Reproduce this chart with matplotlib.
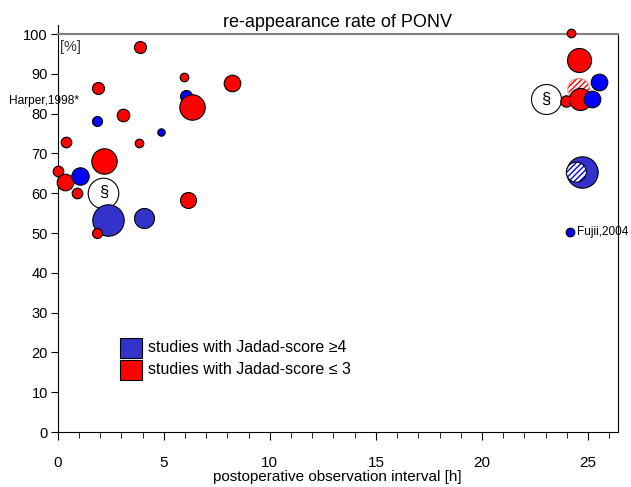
# re-appearance rate of PONV, bubble chart
import matplotlib
matplotlib.use('Agg')
import matplotlib.pyplot as plt
from matplotlib.patches import Rectangle

plt.rcParams['font.family'] = ['Liberation Sans', 'DejaVu Sans']

# studies: observation interval [h], re-appearance rate [%], bubble radius [px], group
interval = [0.0, 0.33, 1.07, 0.41, 0.91, 1.9, 1.85, 3.07, 2.2, 2.15, 2.37, 1.85, 4.08,
            3.9, 3.85, 4.87, 5.96, 6.04, 6.35, 6.16, 8.2,
            24.2, 24.56, 24.56, 25.5, 23.0, 23.96, 24.6, 25.17, 24.73, 24.45, 24.17]
rate = [65.7, 62.8, 64.4, 72.9, 60.0, 86.4, 78.2, 79.6, 68.0, 60.1, 53.3, 50.1, 53.8,
        96.8, 72.6, 75.5, 89.3, 84.4, 81.6, 58.2, 87.8,
        100.2, 93.5, 86.1, 87.9, 83.6, 83.2, 83.7, 83.6, 65.3, 65.3, 50.25]
radius = [5.3, 8.3, 8.7, 5.3, 5.3, 6.0, 5.0, 6.3, 12.7, 15.3, 15.7, 5.0, 10.0,
          6.0, 4.3, 3.7, 4.3, 6.0, 12.7, 8.0, 8.3,
          4.3, 12.0, 11.0, 8.3, 15.0, 5.7, 11.0, 8.3, 15.7, 10.0, 4.3]
group = ['r', 'r', 'b', 'r', 'r', 'r', 'b', 'r', 'r', 's', 'B', 'r', 'B',
         'r', 'r', 'b', 'r', 'b', 'r', 'r', 'r',
         'r', 'r', 'hr', 'b', 's', 'r', 'r', 'b', 'B', 'hb', 'b']

x_ticks = [0, 5, 10, 15, 20, 25]
y_ticks = [0, 10, 20, 30, 40, 50, 60, 70, 80, 90, 100]
legend_labels = ['studies with Jadad-score \u22654', 'studies with Jadad-score \u2264 3']

red = '#ff0000'
blue = '#0000ff'
dblue = '#3333cc'

fig = plt.figure(figsize=(6.31, 4.87), dpi=100)
ax = fig.add_axes([0.0914, 0.1129, 0.979 - 0.0914, 0.930 - 0.1129])

for i in range(len(interval)):
    s = (2 * radius[i] * 0.72) ** 2
    g = group[i]
    z = 3 + i * 0.01
    if g in ('r', 'b', 'B'):
        fc = {'r': red, 'b': blue, 'B': dblue}[g]
        ax.scatter(interval[i], rate[i], s=s, color=fc, edgecolors='black',
                   linewidths=0.8, zorder=z, clip_on=False)
    elif g == 's':
        ax.scatter(interval[i], rate[i], s=s, color='white', edgecolors='black',
                   linewidths=0.8, zorder=z, clip_on=False)
        ax.text(interval[i], rate[i], '\u00a7', ha='center', va='center',
                fontsize=12, zorder=z + 0.001)
    else:
        hc = red if g == 'hr' else blue
        oc = '#ff9090' if g == 'hr' else 'black'
        ax.scatter(interval[i], rate[i], s=s, facecolor='white', edgecolors=hc,
                   hatch='//////', linewidths=0, zorder=z, clip_on=False)
        ax.scatter(interval[i], rate[i], s=s, facecolor='none', edgecolors=oc,
                   linewidths=0.8, zorder=z + 0.001, clip_on=False)

ax.set_xlim(0, 26.4)
ax.set_ylim(0, 100)
ax.set_xticks(x_ticks)
ax.set_xticks(range(0, 27), minor=True)
ax.set_yticks(y_ticks)
ax.tick_params(axis='x', which='major', direction='out', length=6, pad=11, labelsize=11)
ax.tick_params(axis='x', which='minor', direction='out', length=4)
ax.tick_params(axis='y', direction='out', length=5, pad=2, labelsize=10.5)

ax.spines['top'].set_color('#808080')
ax.spines['top'].set_linewidth(1.5)
ax.spines['right'].set_linewidth(0.8)
ax.spines['left'].set_bounds(0, 102.3)

ax.set_xlabel('postoperative observation interval [h]', fontsize=11, labelpad=0.5)
ax.set_title('re-appearance rate of PONV', fontsize=13, pad=5)

ax.text(0.004, 0.985, '[%]', transform=ax.transAxes, fontsize=10.5, color='#333333',
        ha='left', va='top')
fig.text(9 / 631, 1 - 101 / 487, 'Harper,1998*', fontsize=8.6, ha='left', va='center')
ax.text(24.5, 50.25, 'Fujii,2004', fontsize=8.5, ha='left', va='center', clip_on=False)

# legend boxes
leg_y = [348, 370]
leg_c = [dblue, red]
for yy, cc, lab in zip(leg_y, leg_c, legend_labels):
    fig.patches.append(Rectangle((120 / 631, 1 - (yy + 10) / 487), 22 / 631, 20 / 487,
                                 transform=fig.transFigure, facecolor=cc,
                                 edgecolor='black', linewidth=0.8))
    fig.text(148 / 631, 1 - yy / 487, lab, fontsize=11.5, ha='left', va='center')

fig.savefig('out.png', dpi=100)
